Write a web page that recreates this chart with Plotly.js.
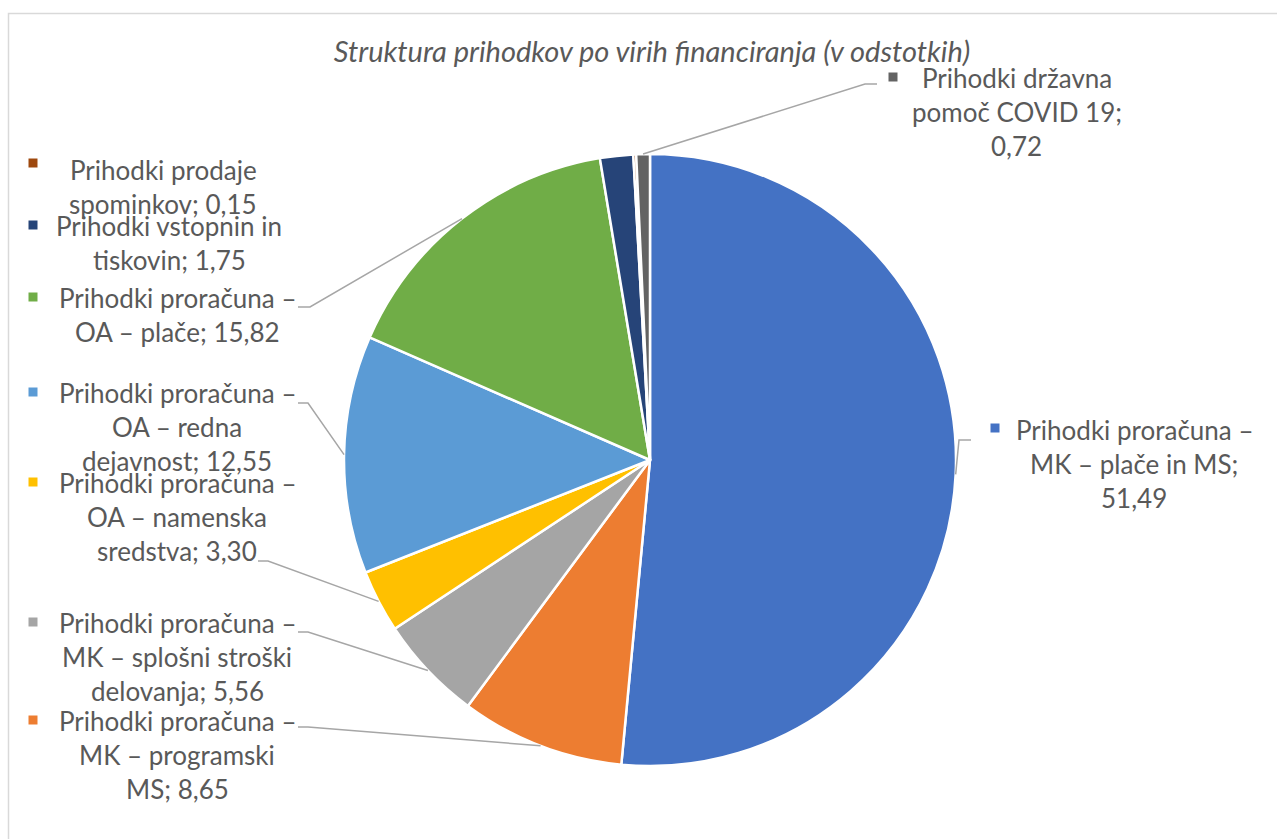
<!DOCTYPE html>
<html>
<head>
<meta charset="utf-8">
<script src="https://cdn.plot.ly/plotly-3.0.1.min.js"></script>
<style>html,body{margin:0;padding:0;background:#fff;}#chart{width:1277px;height:839px;}</style>
</head>
<body>
<div id="chart"></div>
<script>
// ---- data ----
const chartTitle = "Struktura prihodkov po virih financiranja (v odstotkih)";
const categories = [
  "Prihodki proračuna – MK – plače in MS",
  "Prihodki proračuna – MK – programski MS",
  "Prihodki proračuna – MK – splošni stroški delovanja",
  "Prihodki proračuna – OA – namenska sredstva",
  "Prihodki proračuna – OA – redna dejavnost",
  "Prihodki proračuna – OA – plače",
  "Prihodki vstopnin in tiskovin",
  "Prihodki prodaje spominkov",
  "Prihodki državna pomoč COVID 19"
];
const values = [51.49, 8.65, 5.56, 3.30, 12.55, 15.82, 1.75, 0.15, 0.72];
const colors = ["#4472C4","#ED7D31","#A5A5A5","#FFC000","#5B9BD5","#70AD47","#264478","#9E480E","#636363"];
// words per wrapped line of each data label
const wrapWords = [[3,5,1],[3,3,2],[3,4,2],[3,3,2],[3,3,2],[3,4],[3,2],[2,2],[2,3,1]];

// ---- layout config (pixels) ----
const W = 1277, H = 839;
const cx = 650, cy = 460, R = 306;
const FONT = "Lato, 'Open Sans', sans-serif";
const FS = 26, LINE = 34;
const labelPos = [
  {tx:1134, ty:430, mx:995, my:428, elbow:[[959,440],[971,440]]},
  {tx:177, ty:721, mx:33, my:720, elbow:[[308,727],[298,727]]},
  {tx:177, ty:623, mx:33, my:622, elbow:[[308,632],[298,632]]},
  {tx:177, ty:483, mx:33, my:482, elbow:[[268,561],[258,561]]},
  {tx:177, ty:393, mx:33, my:392, elbow:[[308,403],[298,403]]},
  {tx:177, ty:298, mx:33, my:297, elbow:[[310,307],[298,307]]},
  {tx:169, ty:226, mx:33, my:225, elbow:null},
  {tx:163, ty:170, mx:33, my:163, elbow:null},
  {tx:1017, ty:78, mx:893, my:77, elbow:[[865,84],[877,84]]}
];

const px = x => x / W;
const py = y => 1 - y / H;
const fmt = v => v.toFixed(2).replace(".", ",");

const trace = {
  type: "pie",
  labels: categories,
  values: values,
  sort: false,
  direction: "clockwise",
  rotation: 0,
  textinfo: "none",
  hoverinfo: "label+value",
  showlegend: false,
  marker: {colors: colors, line: {color: "#ffffff", width: 2.5}},
  domain: {x: [px(cx - R), px(cx + R)], y: [py(cy + R), py(cy - R)]}
};

const annotations = [];
const shapes = [];
// frame
shapes.push({type:"rect", xref:"paper", yref:"paper", x0:px(8.5), x1:px(W+10), y0:py(H+10), y1:py(13.5),
  line:{color:"#d9d9d9", width:1.5}, fillcolor:"rgba(0,0,0,0)"});

const total = values.reduce((a,b)=>a+b,0);
let cum = 0;
values.forEach((v, i) => {
  const mid = (cum + v/2) / total;
  cum += v;
  const th = mid * 2 * Math.PI;
  const ex = cx + R * Math.sin(th), ey = cy - R * Math.cos(th);
  const words = (categories[i] + "; " + fmt(v)).split(" ");
  const lines = [];
  let k = 0;
  wrapWords[i].forEach(n => { lines.push(words.slice(k, k+n).join(" ")); k += n; });
  const p = labelPos[i];
  lines.forEach((ln, j) => {
    annotations.push({xref:"paper", yref:"paper", x:px(p.tx), y:py(p.ty + j*LINE),
      xanchor:"center", yanchor:"middle", showarrow:false, text:ln,
      font:{family:FONT, size:FS, color:"#595959"}});
  });
  const s = 4.5;
  shapes.push({type:"rect", xref:"paper", yref:"paper", x0:px(p.mx - s), x1:px(p.mx + s),
    y0:py(p.my + s), y1:py(p.my - s), line:{width:0}, fillcolor:colors[i]});
  if (p.elbow) {
    const a = p.elbow[0], b = p.elbow[1];
    shapes.push({type:"path", xref:"paper", yref:"paper",
      path:`M ${px(ex)} ${py(ey)} L ${px(a[0])} ${py(a[1])} L ${px(b[0])} ${py(b[1])}`,
      line:{color:"#a6a6a6", width:1.5}});
  }
});

const layout = {
  width: W, height: H,
  margin: {l:0, r:0, t:0, b:0},
  paper_bgcolor: "#ffffff",
  title: {text: chartTitle, x: px(652), y: py(52), xref:"paper", yref:"container",
    xanchor:"center", yanchor:"middle",
    font:{family:FONT, size:29, color:"#595959", style:"italic"}},
  annotations: annotations,
  shapes: shapes
};

Plotly.newPlot("chart", [trace], layout, {displayModeBar:false, staticPlot:true});
</script>
</body>
</html>
